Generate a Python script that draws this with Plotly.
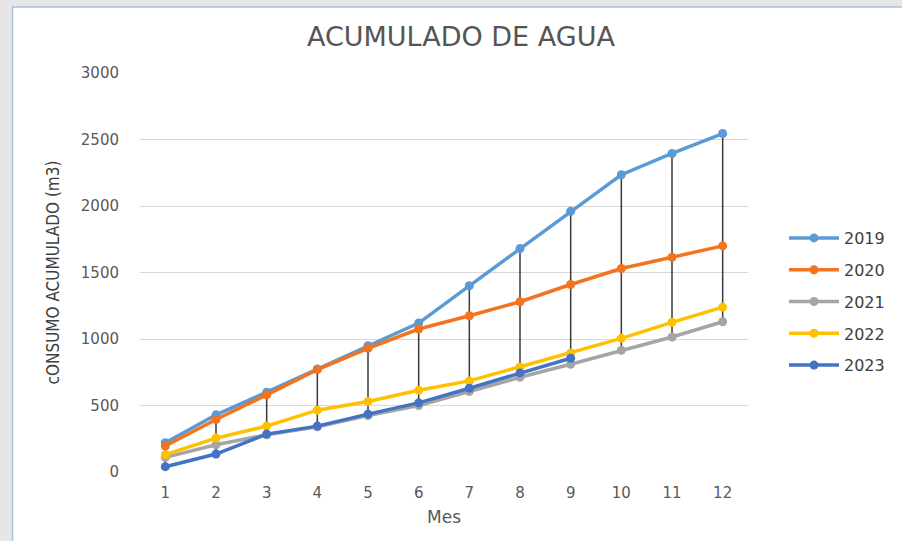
import plotly.graph_objects as go

meses = list(range(1, 13))
y2019 = [220, 430, 600, 775, 950, 1120, 1400, 1680, 1960, 2235, 2395, 2545]
y2020 = [195, 395, 580, 770, 930, 1075, 1175, 1280, 1410, 1530, 1615, 1700]
y2021 = [110, 205, 280, 340, 425, 500, 605, 712, 810, 915, 1015, 1130]
y2022 = [130, 255, 345, 465, 530, 615, 685, 790, 895, 1005, 1125, 1240]
y2023 = [40, 135, 285, 345, 435, 520, 630, 745, 855]

series = [
    ("2019", y2019, "#5B9BD5"),
    ("2020", y2020, "#F4731F"),
    ("2021", y2021, "#A5A5A5"),
    ("2022", y2022, "#FFC000"),
    ("2023", y2023, "#4472C4"),
]

fig = go.Figure()

# High-low lines (max to min across series for each month)
hx, hy = [], []
for i, m in enumerate(meses):
    vals = [s[1][i] for s in series if i < len(s[1])]
    hx += [m, m, None]
    hy += [max(vals), min(vals), None]
fig.add_trace(go.Scatter(x=hx, y=hy, mode="lines", line=dict(color="#3a3a3a", width=1.5),
                         showlegend=False, hoverinfo="skip"))

for name, ys, col in series:
    fig.add_trace(go.Scatter(
        x=meses[:len(ys)], y=ys, name=name, mode="lines+markers",
        line=dict(color=col, width=3.5), marker=dict(color=col, size=9),
        legendgroup=name,
    ))

def xp(px):
    return (px - 140) / 608

def yp(py):
    return (472 - py) / 399

FONT = "DejaVu Sans"

fig.update_layout(
    width=902, height=541,
    margin=dict(l=140, r=154, t=73, b=69),
    paper_bgcolor="#e6e6e6",
    plot_bgcolor="white",
    title=dict(text="ACUMULADO DE AGUA", x=0.511, xanchor="center", y=1 - 37 / 541, yanchor="middle",
               font=dict(family=FONT, size=27, color="#555555")),
    shapes=[dict(type="rect", xref="paper", yref="paper", layer="below",
                 x0=xp(12.5), x1=xp(915), y0=yp(560), y1=yp(7),
                 fillcolor="white", line=dict(color="#a9bde6", width=1.5))],
    legend=dict(x=xp(784), y=yp(221), xanchor="left", yanchor="top",
                font=dict(family=FONT, size=16, color="#404040"),
                tracegroupgap=8, bgcolor="rgba(0,0,0,0)", itemwidth=50),
    showlegend=True,
)
fig.update_xaxes(range=[0.5, 12.5], tickvals=meses, ticktext=[str(m) for m in meses],
                 showgrid=False, zeroline=False, showline=False, ticks="", ticklabelstandoff=10,
                 tickfont=dict(family=FONT, size=15, color="#595959"),
                 title=dict(text="Mes", font=dict(family=FONT, size=17, color="#595959"), standoff=10))
fig.update_yaxes(range=[0, 3000], dtick=500, showgrid=True, gridcolor="#d9d9d9", gridwidth=1.2,
                 zeroline=False, showline=False, ticks="", ticklabelstandoff=20,
                 tickfont=dict(family=FONT, size=15, color="#595959"),
                 title=dict(text="cONSUMO ACUMULADO (m3)",
                            font=dict(family="Liberation Sans Narrow, DejaVu Sans Condensed", size=17, color="#404040"),
                            standoff=16))

fig.write_html("out.html", config={"displayModeBar": False},
               post_script="document.body.style.margin='0px';document.body.style.padding='0px';")
